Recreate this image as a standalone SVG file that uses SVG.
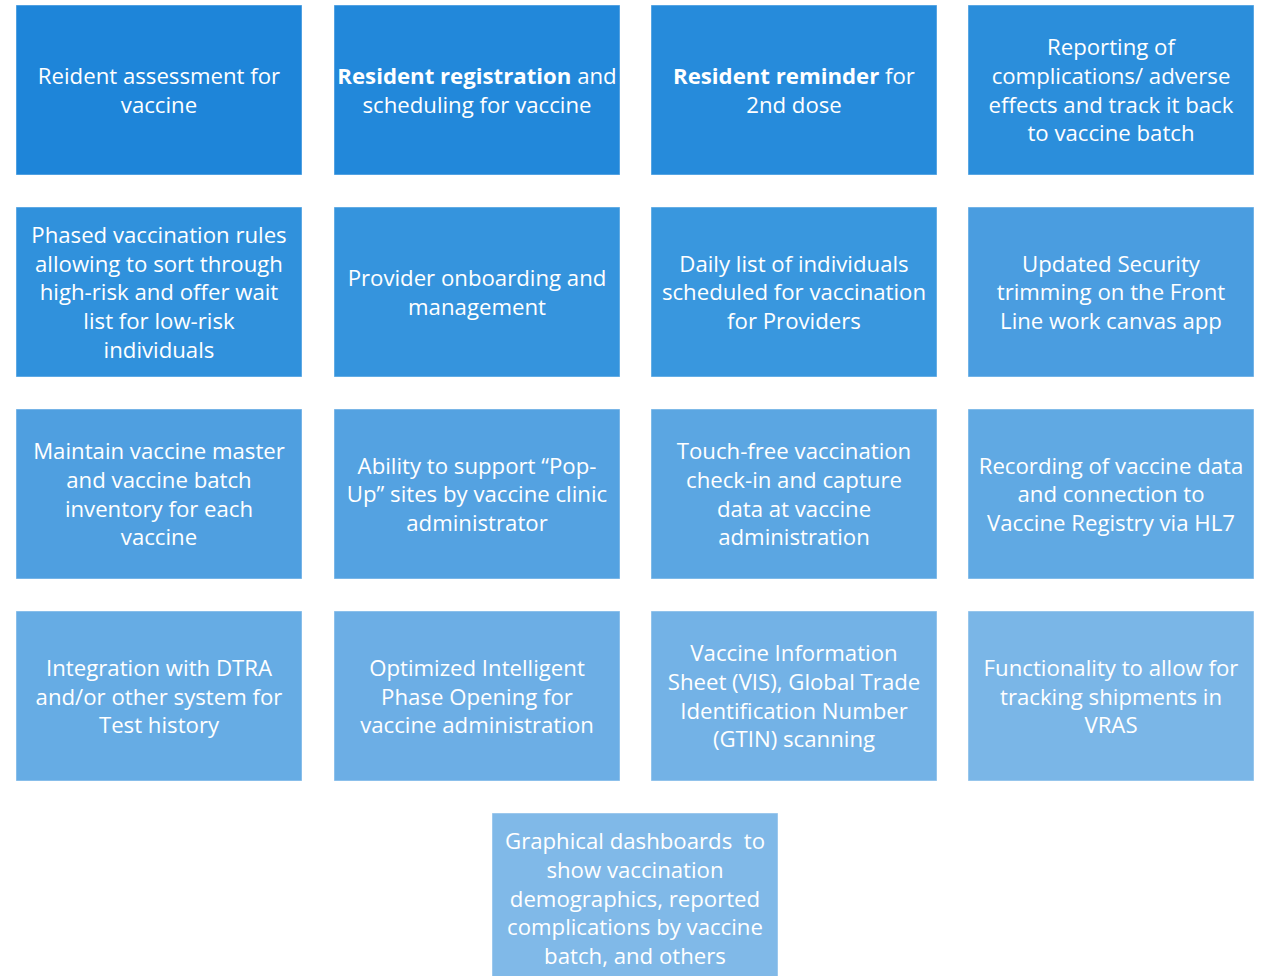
<svg xmlns="http://www.w3.org/2000/svg" width="1265" height="976" viewBox="0 0 1265 976">
<style>
.b{stroke:#ffffff;stroke-opacity:0.45;stroke-width:1}
text{font-family:"Open Sans","Noto Sans","Liberation Sans",sans-serif;font-size:22.2px;fill:#ffffff;text-anchor:middle}
.bd{font-weight:bold}
</style>
<rect width="1265" height="976" fill="#ffffff"/>
<g id="n1"><rect class="b" x="16" y="5" width="286" height="170" fill="#1e85d9"/><text x="159" y="84">Reident assessment for</text><text x="159" y="113">vaccine</text></g>
<g id="n2"><rect class="b" x="334" y="5" width="286" height="170" fill="#2288da"/><text x="477" y="84"><tspan class="bd">Resident registration</tspan> and</text><text x="477" y="113">scheduling for vaccine</text></g>
<g id="n3"><rect class="b" x="651" y="5" width="286" height="170" fill="#268bdb"/><text x="794" y="84"><tspan class="bd">Resident reminder</tspan> for</text><text x="794" y="113">2nd dose</text></g>
<g id="n4"><rect class="b" x="968" y="5" width="286" height="170" fill="#2b8edb"/><text x="1111" y="55">Reporting of</text><text x="1111" y="84">complications/ adverse</text><text x="1111" y="113">effects and track it back</text><text x="1111" y="141">to vaccine batch</text></g>
<g id="n5"><rect class="b" x="16" y="207" width="286" height="170" fill="#3091dc"/><text x="159" y="243">Phased vaccination rules</text><text x="159" y="272">allowing to sort through</text><text x="159" y="300">high-risk and offer wait</text><text x="159" y="329">list for low-risk</text><text x="159" y="358">individuals</text></g>
<g id="n6"><rect class="b" x="334" y="207" width="286" height="170" fill="#3594dd"/><text x="477" y="286">Provider onboarding and</text><text x="477" y="315">management</text></g>
<g id="n7"><rect class="b" x="651" y="207" width="286" height="170" fill="#3997de"/><text x="794" y="272">Daily list of individuals</text><text x="794" y="300">scheduled for vaccination</text><text x="794" y="329">for Providers</text></g>
<g id="n8"><rect class="b" x="968" y="207" width="286" height="170" fill="#4a9de0"/><text x="1111" y="272">Updated Security</text><text x="1111" y="300">trimming on the Front</text><text x="1111" y="329">Line work canvas app</text></g>
<g id="n9"><rect class="b" x="16" y="409" width="286" height="170" fill="#4f9fe0"/><text x="159" y="459">Maintain vaccine master</text><text x="159" y="488">and vaccine batch</text><text x="159" y="517">inventory for each</text><text x="159" y="545">vaccine</text></g>
<g id="n10"><rect class="b" x="334" y="409" width="286" height="170" fill="#54a2e1"/><text x="477" y="474">Ability to support “Pop-</text><text x="477" y="502">Up” sites by vaccine clinic</text><text x="477" y="531">administrator</text></g>
<g id="n11"><rect class="b" x="651" y="409" width="286" height="170" fill="#5ba6e2"/><text x="794" y="459">Touch-free vaccination</text><text x="794" y="488">check-in and capture</text><text x="794" y="517">data at vaccine</text><text x="794" y="545">administration</text></g>
<g id="n12"><rect class="b" x="968" y="409" width="286" height="170" fill="#60a9e3"/><text x="1111" y="474">Recording of vaccine data</text><text x="1111" y="502">and connection to</text><text x="1111" y="531">Vaccine Registry via HL7</text></g>
<g id="n13"><rect class="b" x="16" y="611" width="286" height="170" fill="#66ace4"/><text x="159" y="676">Integration with DTRA</text><text x="159" y="705">and/or other system for</text><text x="159" y="733">Test history</text></g>
<g id="n14"><rect class="b" x="334" y="611" width="286" height="170" fill="#6caee5"/><text x="477" y="676">Optimized Intelligent</text><text x="477" y="705">Phase Opening for</text><text x="477" y="733">vaccine administration</text></g>
<g id="n15"><rect class="b" x="651" y="611" width="286" height="170" fill="#73b2e6"/><text x="794" y="661">Vaccine Information</text><text x="794" y="690">Sheet (VIS), Global Trade</text><text x="794" y="719">Identification Number</text><text x="794" y="747">(GTIN) scanning</text></g>
<g id="n16"><rect class="b" x="968" y="611" width="286" height="170" fill="#7ab6e7"/><text x="1111" y="676">Functionality to allow for</text><text x="1111" y="705">tracking shipments in</text><text x="1111" y="733">VRAS</text></g>
<g id="n17"><rect class="b" x="492" y="813" width="286" height="170" fill="#80b9e8"/><text x="635" y="849" style="white-space:pre">Graphical dashboards  to</text><text x="635" y="878">show vaccination</text><text x="635" y="907">demographics, reported</text><text x="635" y="935">complications by vaccine</text><text x="635" y="964">batch, and others</text></g>
<g id="connectors"></g>
</svg>
